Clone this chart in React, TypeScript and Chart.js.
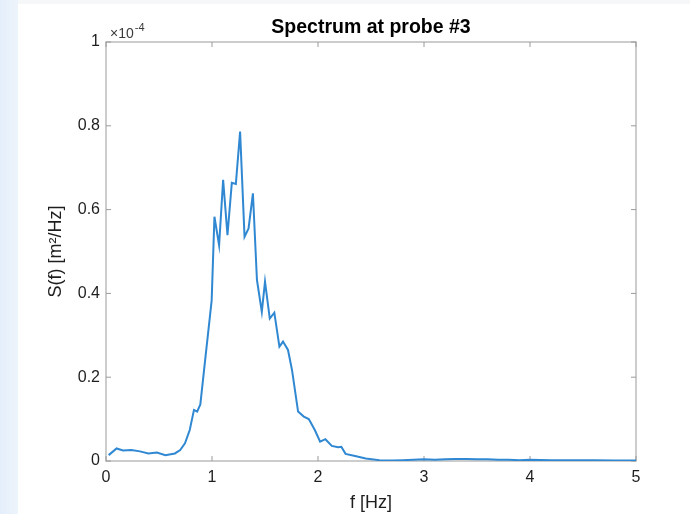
import React, { useEffect, useRef } from "react";
import { Chart, registerables } from "chart.js";

Chart.register(...registerables);

// Frequency [Hz]
const FREQS = [
  0.025, 0.1, 0.16, 0.24, 0.32, 0.4, 0.48, 0.56, 0.65, 0.7, 0.745, 0.79, 0.83, 0.86, 0.89,
  0.935, 0.98, 0.997, 1.023, 1.067, 1.105, 1.146, 1.187, 1.225, 1.265, 1.307, 1.345, 1.386,
  1.424, 1.47, 1.5, 1.545, 1.588, 1.636, 1.67, 1.717, 1.755, 1.812, 1.866, 1.913, 1.97, 2.02,
  2.07, 2.13, 2.19, 2.22, 2.26, 2.35, 2.45, 2.58, 2.7, 2.8, 2.9, 3.0, 3.1, 3.2, 3.3, 3.4, 3.5,
  3.6, 3.7, 3.8, 3.9, 4.0, 4.2, 4.4, 4.6, 4.8, 5.0,
];

// Spectral density S(f), in units of 1e-4 m^2/Hz
const SPECTRUM = [
  0.014, 0.03, 0.025, 0.026, 0.023, 0.018, 0.02, 0.014, 0.018, 0.026, 0.042, 0.074, 0.122,
  0.118, 0.135, 0.24, 0.344, 0.384, 0.583, 0.515, 0.671, 0.539, 0.664, 0.661, 0.786, 0.535,
  0.555, 0.639, 0.432, 0.356, 0.428, 0.34, 0.354, 0.273, 0.285, 0.265, 0.217, 0.118, 0.106,
  0.1, 0.074, 0.046, 0.052, 0.036, 0.033, 0.034, 0.017, 0.012, 0.006, 0.002, 0.001, 0.002,
  0.003, 0.004, 0.003, 0.004, 0.005, 0.005, 0.004, 0.004, 0.003, 0.003, 0.002, 0.003, 0.002,
  0.002, 0.002, 0.001, 0.001,
];

const X_TICKS = [0, 1, 2, 3, 4, 5];
const Y_TICKS = [0, 0.2, 0.4, 0.6, 0.8, 1];
const TITLE = "Spectrum at probe #3";
const X_LABEL = "f [Hz]";
const Y_LABEL = "S(f) [m²/Hz]";
const EXP_BASE = "×10";
const EXP_POWER = "-4";

const FONT = "'Liberation Sans', Arial, Helvetica, sans-serif";

const framePlugin = {
  id: "matlabFrame",
  beforeDatasetsDraw(chart: any) {
    const { ctx, chartArea } = chart;
    const { left, right, top, bottom } = chartArea;
    const xs = chart.scales.x;
    const ys = chart.scales.y;
    ctx.save();
    ctx.strokeStyle = "#bcbcbc";
    ctx.lineWidth = 1.5;
    ctx.strokeRect(left, top, right - left, bottom - top);
    ctx.strokeStyle = "#9a9a9a";
    ctx.lineWidth = 1;
    const tl = 5;
    ctx.beginPath();
    X_TICKS.forEach((v) => {
      const px = xs.getPixelForValue(v);
      ctx.moveTo(px, bottom);
      ctx.lineTo(px, bottom - tl);
      ctx.moveTo(px, top);
      ctx.lineTo(px, top + tl);
    });
    Y_TICKS.forEach((v) => {
      const py = ys.getPixelForValue(v);
      ctx.moveTo(left, py);
      ctx.lineTo(left + tl, py);
      ctx.moveTo(right, py);
      ctx.lineTo(right - tl, py);
    });
    ctx.stroke();
    ctx.restore();
  },
  afterDraw(chart: any) {
    const { ctx, chartArea } = chart;
    ctx.save();
    ctx.fillStyle = "#3a3a3a";
    ctx.textBaseline = "alphabetic";
    ctx.textAlign = "left";
    ctx.font = `14px ${FONT}`;
    const x0 = chartArea.left + 4;
    const y0 = chartArea.top - 4;
    ctx.fillText(EXP_BASE, x0, y0);
    const w = ctx.measureText(EXP_BASE).width;
    ctx.font = `11px ${FONT}`;
    ctx.fillText(EXP_POWER, x0 + w + 1, y0 - 7);
    ctx.restore();
  },
};

export default function App() {
  const canvasRef = useRef<HTMLCanvasElement | null>(null);

  useEffect(() => {
    const canvas = canvasRef.current;
    if (!canvas) return;
    const chart = new Chart(canvas, {
      type: "line",
      data: {
        datasets: [
          {
            data: FREQS.map((f, i) => ({ x: f, y: SPECTRUM[i] })),
            borderColor: "#3088d2",
            borderWidth: 2,
            pointRadius: 0,
            tension: 0,
            fill: false,
          },
        ],
      },
      options: {
        responsive: false,
        animation: false,
        events: [],
        layout: { padding: { left: 0, right: 54, top: 0, bottom: 0 } },
        plugins: {
          legend: { display: false },
          tooltip: { enabled: false },
          title: {
            display: true,
            fullSize: false,
            text: TITLE,
            color: "#000",
            font: { family: FONT, size: 19.5, weight: "bold" },
            padding: { top: 16.3, bottom: 2.3 },
          },
        },
        scales: {
          x: {
            type: "linear",
            min: 0,
            max: 5,
            afterBuildTicks: (s: any) => {
              s.ticks = X_TICKS.map((v) => ({ value: v }));
            },
            afterFit: (s: any) => {
              s.height = 53;
            },
            grid: { display: false, drawTicks: false },
            border: { display: false },
            ticks: {
              color: "#1e1e1e",
              font: { family: FONT, size: 16 },
              padding: 7,
              maxRotation: 0,
              callback: (v: any) => String(v),
            },
            title: {
              display: true,
              text: X_LABEL,
              color: "#1e1e1e",
              font: { family: FONT, size: 18 },
              padding: { top: 0, bottom: 0 },
            },
          },
          y: {
            type: "linear",
            min: 0,
            max: 1,
            afterBuildTicks: (s: any) => {
              s.ticks = Y_TICKS.map((v) => ({ value: v }));
            },
            afterFit: (s: any) => {
              s.width = 106;
            },
            grid: { display: false, drawTicks: false },
            border: { display: false },
            ticks: {
              color: "#1e1e1e",
              font: { family: FONT, size: 16 },
              padding: 6,
              callback: (v: any) => String(v),
            },
            title: {
              display: true,
              text: Y_LABEL,
              color: "#1e1e1e",
              font: { family: FONT, size: 18 },
              padding: { top: 45, bottom: 0 },
            },
          },
        },
      },
      plugins: [framePlugin],
    });
    return () => chart.destroy();
  }, []);

  return (
    <div
      style={{
        position: "absolute",
        left: 0,
        top: 0,
        width: 690,
        height: 514,
        background: "linear-gradient(to right, #e4eefa 0px, #eef4fb 18px, #f5f7f9 18px)",
        overflow: "hidden",
      }}
    >
      <div
        style={{
          position: "absolute",
          left: 18,
          top: 4,
          right: 0,
          bottom: 0,
          background: "#ffffff",
        }}
      />
      <canvas
        ref={canvasRef}
        width={690}
        height={514}
        style={{ position: "absolute", left: 0, top: 0, display: "block" }}
      />
    </div>
  );
}
